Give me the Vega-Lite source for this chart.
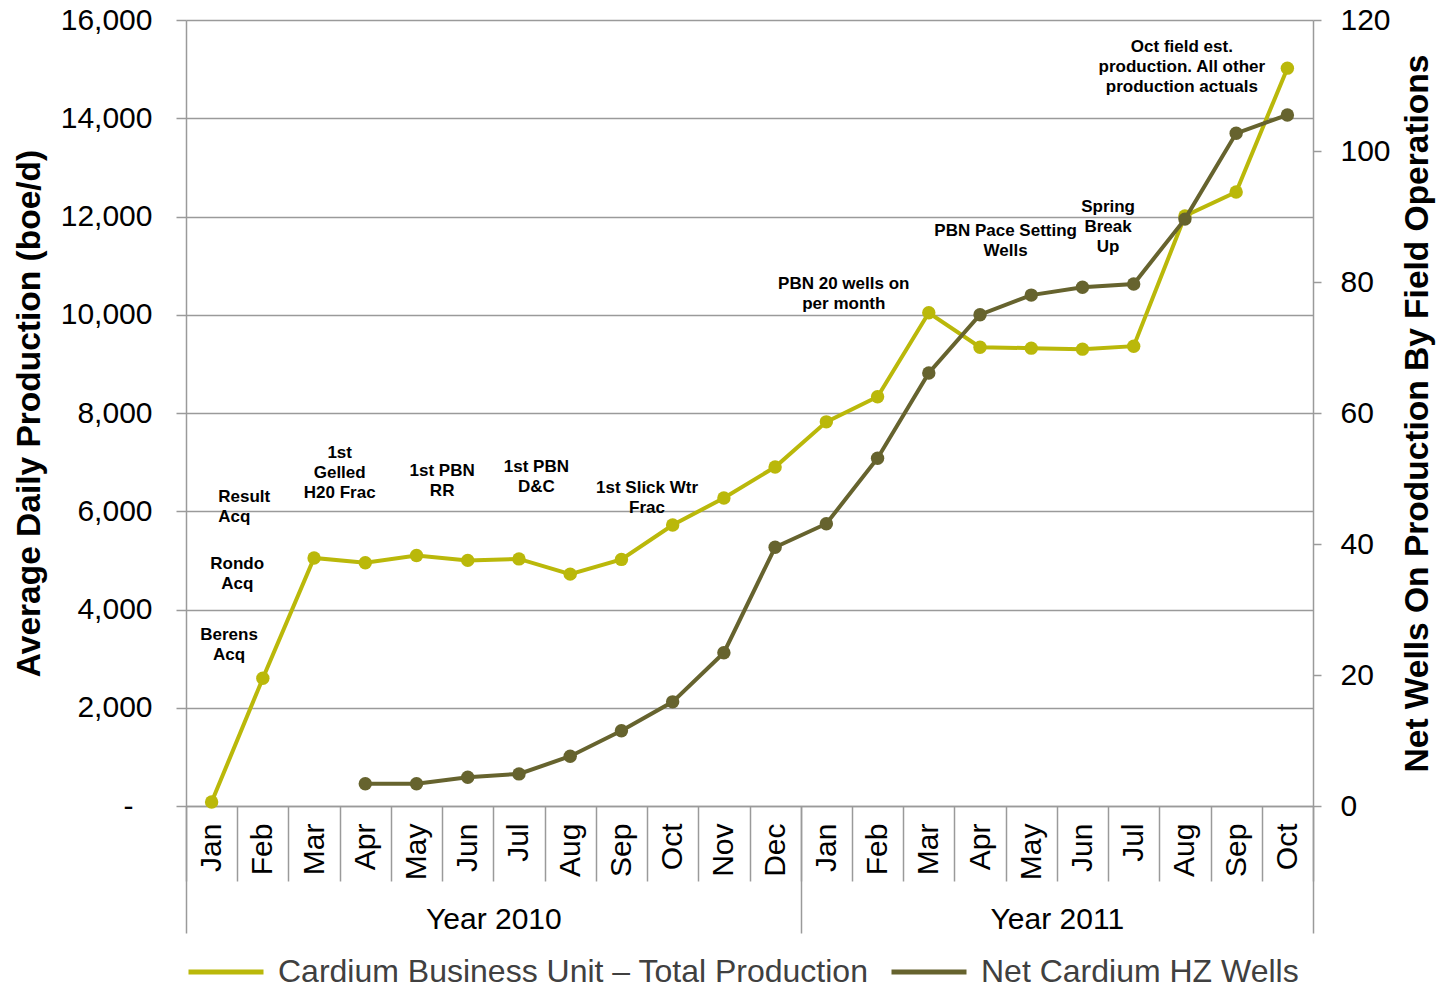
{
  "$schema": "https://vega.github.io/schema/vega-lite/v6.json",
  "width": 1127,
  "height": 786,
  "padding": {"left": 12, "top": 5, "right": 5, "bottom": 2},
  "config": {
    "font": "Liberation Sans",
    "view": {"stroke": null},
    "axis": {
      "labelFont": "Liberation Sans",
      "titleFont": "Liberation Sans",
      "labelColor": "#000000",
      "titleColor": "#000000",
      "labelFontSize": 30,
      "titleFontSize": 33.5,
      "titleFontWeight": "bold",
      "tickColor": "#9a9a9a",
      "domainColor": "#9a9a9a",
      "gridColor": "#9a9a9a",
      "tickWidth": 1.5,
      "domainWidth": 1.5,
      "gridWidth": 1.5
    },
    "legend": {
      "orient": "bottom",
      "direction": "horizontal",
      "title": null,
      "symbolType": "stroke",
      "symbolSize": 5625,
      "symbolStrokeWidth": 5,
      "labelFont": "Liberation Sans",
      "labelFontSize": 32,
      "labelColor": "#404040",
      "labelLimit": 1000,
      "labelOffset": 12,
      "columnPadding": 12,
      "offset": -2
    }
  },
  "datasets": {
    "monthly": [
      {"month": "Jan 2010", "production": 80},
      {"month": "Feb 2010", "production": 2600},
      {"month": "Mar 2010", "production": 5050},
      {"month": "Apr 2010", "production": 4950, "wells": 3.4},
      {"month": "May 2010", "production": 5100, "wells": 3.4},
      {"month": "Jun 2010", "production": 5000, "wells": 4.4},
      {"month": "Jul 2010", "production": 5030, "wells": 4.9},
      {"month": "Aug 2010", "production": 4720, "wells": 7.6},
      {"month": "Sep 2010", "production": 5020, "wells": 11.5},
      {"month": "Oct 2010", "production": 5720, "wells": 15.9},
      {"month": "Nov 2010", "production": 6270, "wells": 23.4},
      {"month": "Dec 2010", "production": 6900, "wells": 39.5},
      {"month": "Jan 2011", "production": 7820, "wells": 43.1},
      {"month": "Feb 2011", "production": 8330, "wells": 53.1},
      {"month": "Mar 2011", "production": 10040, "wells": 66.1},
      {"month": "Apr 2011", "production": 9340, "wells": 75.0},
      {"month": "May 2011", "production": 9320, "wells": 78.0},
      {"month": "Jun 2011", "production": 9300, "wells": 79.2},
      {"month": "Jul 2011", "production": 9360, "wells": 79.7},
      {"month": "Aug 2011", "production": 12010, "wells": 89.6},
      {"month": "Sep 2011", "production": 12500, "wells": 102.7},
      {"month": "Oct 2011", "production": 15020, "wells": 105.5}
    ]
  },
  "layer": [
    {
      "data": {"name": "monthly"},
      "mark": {"type": "line", "strokeWidth": 4, "point": {"filled": true, "size": 180, "opacity": 1}},
      "encoding": {
        "x": {
          "field": "month",
          "type": "ordinal",
          "sort": null,
          "scale": {
            "type": "band",
            "paddingInner": 0,
            "paddingOuter": 0,
            "domain": ["Jan 2010", "Feb 2010", "Mar 2010", "Apr 2010", "May 2010", "Jun 2010", "Jul 2010", "Aug 2010", "Sep 2010", "Oct 2010", "Nov 2010", "Dec 2010", "Jan 2011", "Feb 2011", "Mar 2011", "Apr 2011", "May 2011", "Jun 2011", "Jul 2011", "Aug 2011", "Sep 2011", "Oct 2011"]
          },
          "axis": {
            "orient": "bottom",
            "title": null,
            "grid": false,
            "tickBand": "extent",
            "tickSize": 75,
            "labelAngle": -90,
            "labelAlign": "right",
            "labelBaseline": "middle",
            "labelPadding": -58,
            "labelExpr": "slice(datum.label, 0, 3)"
          }
        },
        "y": {
          "field": "production",
          "type": "quantitative",
          "scale": {"domain": [0, 16000], "nice": false},
          "axis": {
            "title": "Average Daily Production (boe/d)",
            "values": [0, 2000, 4000, 6000, 8000, 10000, 12000, 14000, 16000],
            "format": ",.0f",
            "labelExpr": "datum.value === 0 ? '-' : datum.label",
            "labelPadding": {"condition": {"test": "datum.value === 0", "value": 43}, "value": 24},
            "grid": true,
            "tickSize": 10,
            "titlePadding": 14
          }
        },
        "color": {
          "datum": "Cardium Business Unit – Total Production",
          "type": "nominal",
          "scale": {
            "domain": ["Cardium Business Unit – Total Production", "Net Cardium HZ Wells"],
            "range": ["#BAB80A", "#66632E"]
          }
        }
      }
    },
    {
      "data": {
        "values": [
          {"month": "Jan 2010", "level": 4926, "note": "Rondo\nAcq"},
          {"month": "Mar 2010", "level": 7186, "note": "1st\nGelled\nH20 Frac"},
          {"month": "May 2010", "level": 6819, "note": "1st PBN\nRR"},
          {"month": "Sep 2010", "level": 6473, "note": "1st Slick Wtr\nFrac"},
          {"month": "Apr 2011", "level": 11705, "note": "PBN Pace Setting\nWells"},
          {"month": "Jun 2011", "level": 12193, "note": "Spring\nBreak\nUp"}
        ]
      },
      "mark": {"type": "text", "font": "Liberation Sans", "fontSize": 17, "fontWeight": "bold", "lineBreak": "\n", "lineHeight": 20, "align": "center", "baseline": "middle", "color": "#000000"},
      "encoding": {
        "x": {"field": "month", "type": "ordinal", "bandPosition": 1, "axis": null},
        "y": {"field": "level", "type": "quantitative", "scale": {"domain": [0, 16000], "nice": false}, "axis": null},
        "text": {"field": "note"}
      }
    },
    {
      "data": {
        "values": [
          {"month": "Jan 2010", "level": 3481, "note": "Berens\nAcq"},
          {"month": "Jul 2010", "level": 6901, "note": "1st PBN\nD&C"},
          {"month": "Jan 2011", "level": 10626, "note": "PBN 20 wells on\nper month"}
        ]
      },
      "mark": {"type": "text", "font": "Liberation Sans", "fontSize": 17, "fontWeight": "bold", "lineBreak": "\n", "lineHeight": 20, "align": "center", "baseline": "middle", "color": "#000000"},
      "encoding": {
        "x": {"field": "month", "type": "ordinal", "bandPosition": 0.84, "axis": null},
        "y": {"field": "level", "type": "quantitative", "scale": {"domain": [0, 16000], "nice": false}, "axis": null},
        "text": {"field": "note"}
      }
    },
    {
      "data": {
        "values": [
          {"month": "Aug 2011", "level": 15450, "note": "Oct field est.\nproduction. All other\nproduction actuals"}
        ]
      },
      "mark": {"type": "text", "font": "Liberation Sans", "fontSize": 17, "fontWeight": "bold", "lineBreak": "\n", "lineHeight": 20, "align": "center", "baseline": "middle", "color": "#000000"},
      "encoding": {
        "x": {"field": "month", "type": "ordinal", "bandPosition": 0.44, "axis": null},
        "y": {"field": "level", "type": "quantitative", "scale": {"domain": [0, 16000], "nice": false}, "axis": null},
        "text": {"field": "note"}
      }
    },
    {
      "data": {
        "values": [
          {"month": "Jan 2010", "level": 6290, "note": "Result\nAcq"}
        ]
      },
      "mark": {"type": "text", "font": "Liberation Sans", "fontSize": 17, "fontWeight": "bold", "lineBreak": "\n", "lineHeight": 20, "align": "left", "baseline": "middle", "color": "#000000"},
      "encoding": {
        "x": {"field": "month", "type": "ordinal", "bandPosition": 0.63, "axis": null},
        "y": {"field": "level", "type": "quantitative", "scale": {"domain": [0, 16000], "nice": false}, "axis": null},
        "text": {"field": "note"}
      }
    },
    {
      "data": {"name": "monthly"},
      "mark": {"type": "line", "strokeWidth": 4, "point": {"filled": true, "size": 180, "opacity": 1}},
      "encoding": {
        "x": {"field": "month", "type": "ordinal", "sort": null, "axis": null},
        "y": {
          "field": "wells",
          "type": "quantitative",
          "scale": {"domain": [0, 120], "nice": false},
          "axis": {
            "orient": "right",
            "title": "Net Wells On Production By Field Operations",
            "titleAngle": 270,
            "titleBaseline": "top",
            "values": [0, 20, 40, 60, 80, 100, 120],
            "grid": false,
            "tickSize": 8,
            "labelPadding": 19,
            "titlePadding": 11
          }
        },
        "color": {"datum": "Net Cardium HZ Wells", "type": "nominal"}
      }
    },
    {
      "data": {"name": "monthly"},
      "mark": {"type": "point", "opacity": 0},
      "encoding": {
        "x": {
          "field": "month",
          "type": "ordinal",
          "sort": null,
          "axis": {
            "orient": "bottom",
            "title": null,
            "grid": false,
            "domain": false,
            "values": ["Jan 2010", "Jun 2010", "Dec 2010", "May 2011", "Oct 2011"],
            "tickBand": "extent",
            "tickSize": 127,
            "tickOpacity": {
              "condition": {"test": "indexof(['Jan 2010', 'Jun 2010', 'May 2011'], datum.value) >= 0", "value": 0},
              "value": 1
            },
            "labelExpr": "datum.value == 'Jun 2010' ? 'Year 2010' : datum.value == 'May 2011' ? 'Year 2011' : ''",
            "labelAngle": 0,
            "labelAlign": "center",
            "labelBaseline": "top",
            "labelOffset": 25.6,
            "labelPadding": -29
          }
        }
      }
    }
  ],
  "resolve": {"scale": {"y": "independent"}, "axis": {"x": "independent"}}
}
